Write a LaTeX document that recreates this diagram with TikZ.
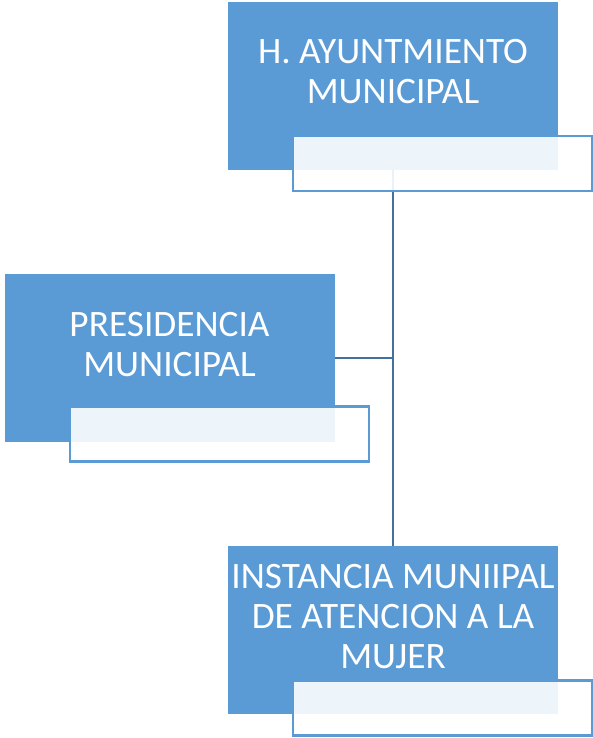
\documentclass[tikz,border=0pt]{standalone}
\usepackage{fontspec}
\setmainfont{Carlito}
\usepackage{tikz}
\usetikzlibrary{positioning}
\definecolor{boxblue}{HTML}{5B9BD5}
\definecolor{linkblue}{HTML}{41719C}

\begin{document}
\begin{tikzpicture}[x=1pt,y=-1pt,
    unitbox/.style={rectangle, fill=boxblue, minimum width=330pt, minimum height=168pt, inner sep=0pt},
    tagbox/.style={rectangle, draw=boxblue, line width=2.2pt, fill=white, fill opacity=0.9, minimum width=299pt, minimum height=55pt, inner sep=0pt},
    unittext/.style={text=white, align=center, inner sep=0pt, font=\fontsize{37.3}{40}\selectfont},
    link/.style={draw=linkblue, line width=2.5pt}]
    \useasboundingbox (0,0) rectangle (593,738);

    \node[unitbox] (ayto) at (393, 86) {};
    \node[unitbox] (presid) at (169.5, 358) {};
    \node[unitbox] (mujer) at (393, 630) {};

    \draw[link] (ayto.south) -- (mujer.north);
    \draw[link] (presid.east) -- (presid.east -| ayto.south);

    \node[tagbox] (aytotag) at (442.5, 163.5) {};
    \node[tagbox] (presidtag) at (219.5, 434) {};
    \node[tagbox] (mujertag) at (442.5, 708) {};

    \node[unittext] (aytotxt) at (393, 72) {H. AYUNTMIENTO\\MUNICIPAL};
    \node[unittext] (presidtxt) at (169.5, 344.5) {PRESIDENCIA\\MUNICIPAL};
    \node[unittext] (mujertxt) at (393, 617) {INSTANCIA MUNIIPAL\\DE ATENCION A LA\\MUJER};
\end{tikzpicture}
\end{document}
